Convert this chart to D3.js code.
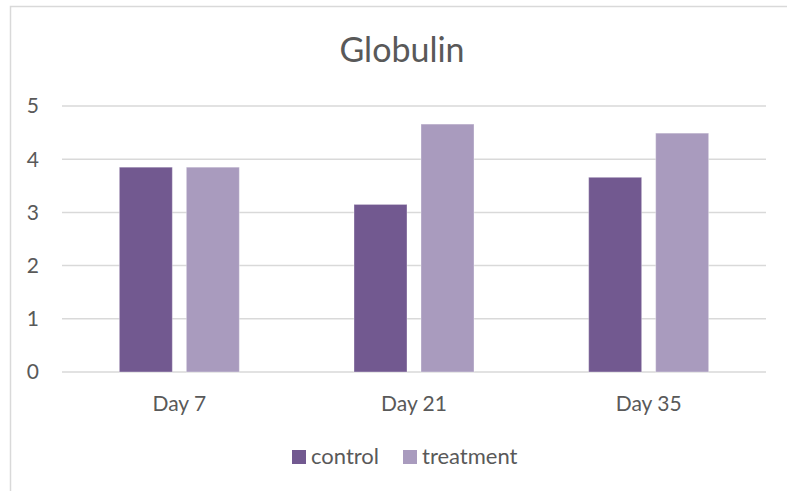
<!DOCTYPE html>
<html>
<head>
<meta charset="utf-8">
<script src="https://cdn.jsdelivr.net/npm/d3@7"></script>
<style>
  body { margin: 0; background: #fff; }
  svg { display: block; font-family: Lato, "Open Sans", sans-serif; }
</style>
</head>
<body>
<div id="chart"></div>
<script>
const days = ["Day 7", "Day 21", "Day 35"];
const series = ["control", "treatment"];
const control = [3.85, 3.15, 3.66];
const treatment = [3.85, 4.66, 4.49];
const yTicks = [0, 1, 2, 3, 4, 5];
const colors = {control: "#725990", treatment: "#a99bbe"};

const width = 787, height = 491;
const margin = {top: 106, bottom: 119, left: 62, right: 21};

const svg = d3.select("#chart").append("svg")
    .attr("width", width)
    .attr("height", height);

// chart frame
svg.append("rect")
    .attr("x", 10.5).attr("y", 6.5)
    .attr("width", 800).attr("height", 520)
    .attr("fill", "none")
    .attr("stroke", "#d9d9d9")
    .attr("stroke-width", 1.5);

const x0 = d3.scaleBand()
    .domain(days)
    .range([margin.left, width - margin.right]);

const x1 = d3.scaleBand()
    .domain(series)
    .range([x0.bandwidth() / 2 - 60, x0.bandwidth() / 2 + 60])
    .paddingInner(0.209);

const y = d3.scaleLinear()
    .domain([0, 5])
    .range([height - margin.bottom, margin.top]);

// gridlines
svg.append("g")
    .selectAll("line")
    .data(yTicks)
    .join("line")
        .attr("x1", margin.left)
        .attr("x2", width - margin.right)
        .attr("y1", d => y(d))
        .attr("y2", d => y(d))
        .attr("stroke", "#d9d9d9")
        .attr("stroke-width", 1.5);

// y labels
svg.append("g")
    .selectAll("text")
    .data(yTicks)
    .join("text")
        .attr("x", 39)
        .attr("y", d => y(d))
        .attr("dy", "0.35em")
        .attr("text-anchor", "end")
        .attr("font-size", "21px")
        .attr("fill", "#595959")
        .text(d => d);

// bars
const rows = days.map((d, i) => ({day: d, control: control[i], treatment: treatment[i]}));
svg.append("g")
    .selectAll("g")
    .data(rows)
    .join("g")
        .attr("transform", d => `translate(${x0(d.day)},0)`)
    .selectAll("rect")
    .data(d => series.map(k => ({key: k, value: d[k]})))
    .join("rect")
        .attr("x", d => x1(d.key))
        .attr("y", d => y(d.value))
        .attr("width", x1.bandwidth())
        .attr("height", d => y(0) - y(d.value))
        .attr("fill", d => colors[d.key])
        .attr("stroke", "#ffffff")
        .attr("stroke-opacity", 0.35)
        .attr("stroke-width", 1);

// x labels
svg.append("g")
    .selectAll("text")
    .data(days)
    .join("text")
        .attr("x", d => x0(d) + x0.bandwidth() / 2)
        .attr("y", 411)
        .attr("text-anchor", "middle")
        .attr("font-size", "21px")
        .attr("fill", "#595959")
        .text(d => d);

// title
svg.append("text")
    .attr("x", 402)
    .attr("y", 62)
    .attr("text-anchor", "middle")
    .attr("font-size", "34px")
    .attr("fill", "#595959")
    .text("Globulin");

// legend
const legendX = [292, 403];
const legend = svg.append("g")
    .selectAll("g")
    .data(series)
    .join("g")
        .attr("transform", (d, i) => `translate(${legendX[i]},450)`);
legend.append("rect")
    .attr("width", 14).attr("height", 14)
    .attr("fill", d => colors[d]);
legend.append("text")
    .attr("x", 19)
    .attr("y", 14)
    .attr("font-size", "22px")
    .attr("fill", "#595959")
    .text(d => d);
</script>
</body>
</html>
